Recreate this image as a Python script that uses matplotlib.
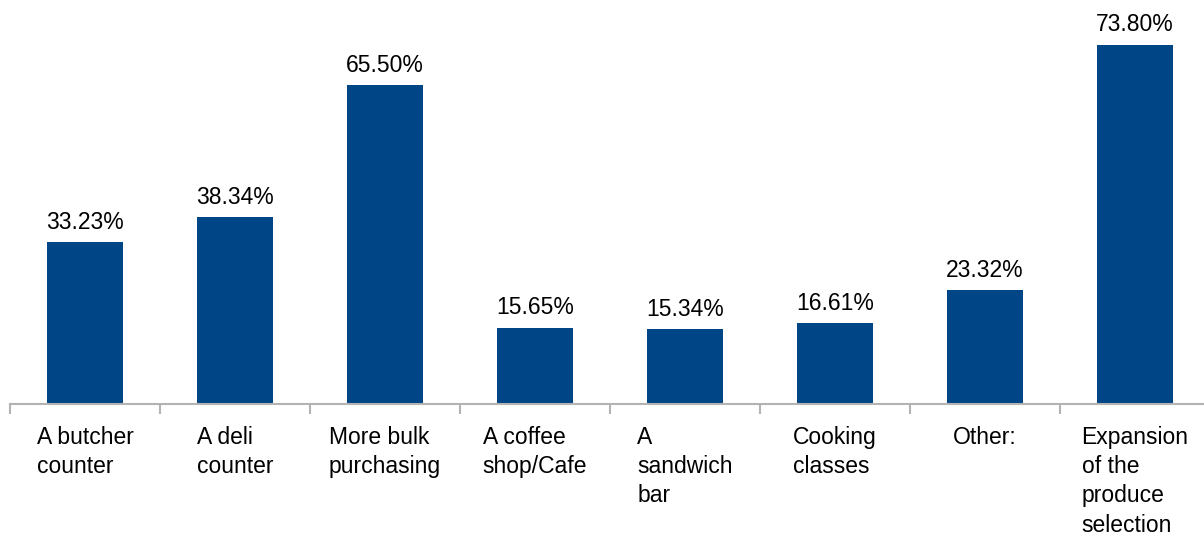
import matplotlib
matplotlib.use("Agg")
import matplotlib.pyplot as plt
from matplotlib.ticker import FixedLocator

plt.rcParams['font.family'] = ['Liberation Sans', 'DejaVu Sans']

categories = [
    "A butcher\ncounter",
    "A deli\ncounter",
    "More bulk\npurchasing",
    "A coffee\nshop/Cafe",
    "A\nsandwich\nbar",
    "Cooking\nclasses",
    "Other:",
    "Expansion\nof the\nproduce\nselection",
]
values = [33.23, 38.34, 65.50, 15.65, 15.34, 16.61, 23.32, 73.80]
value_labels = ["33.23%", "38.34%", "65.50%", "15.65%", "15.34%", "16.61%", "23.32%", "73.80%"]

W, H = 1204, 536
fig = plt.figure(figsize=(W / 100, H / 100), dpi=100)
ax = fig.add_axes([10 / W, 132 / H, 1200 / W, 404 / H])

x = list(range(len(values)))
ax.bar(x, values, width=0.51, color="#004586", zorder=2)
ax.set_xlim(-0.5, len(values) - 0.5)
ax.set_ylim(0, 83.0)

for xi, v, lab in zip(x, values, value_labels):
    ax.annotate(lab, (xi, v), xytext=(0, 6), textcoords="offset points",
                ha="center", va="bottom", fontsize=16.5, color="#000000")

for s in ["top", "right", "left"]:
    ax.spines[s].set_visible(False)
ax.spines["bottom"].set_color("#b3b3b3")
ax.spines["bottom"].set_linewidth(1.5)
ax.set_yticks([])
ax.set_xticks([])
ax.xaxis.set_minor_locator(FixedLocator([i - 0.5 for i in range(len(values) + 1)]))
ax.tick_params(axis="x", which="minor", length=7.5, width=1.5, color="#b3b3b3", direction="out")

for xi, cat in zip(x, categories):
    ax.annotate(cat, (xi, 0), xytext=(0, -16), textcoords="offset points",
                ha="center", va="top", multialignment="left", fontsize=16.5,
                linespacing=1.34, color="#000000")

fig.savefig("out.png", dpi=100)
